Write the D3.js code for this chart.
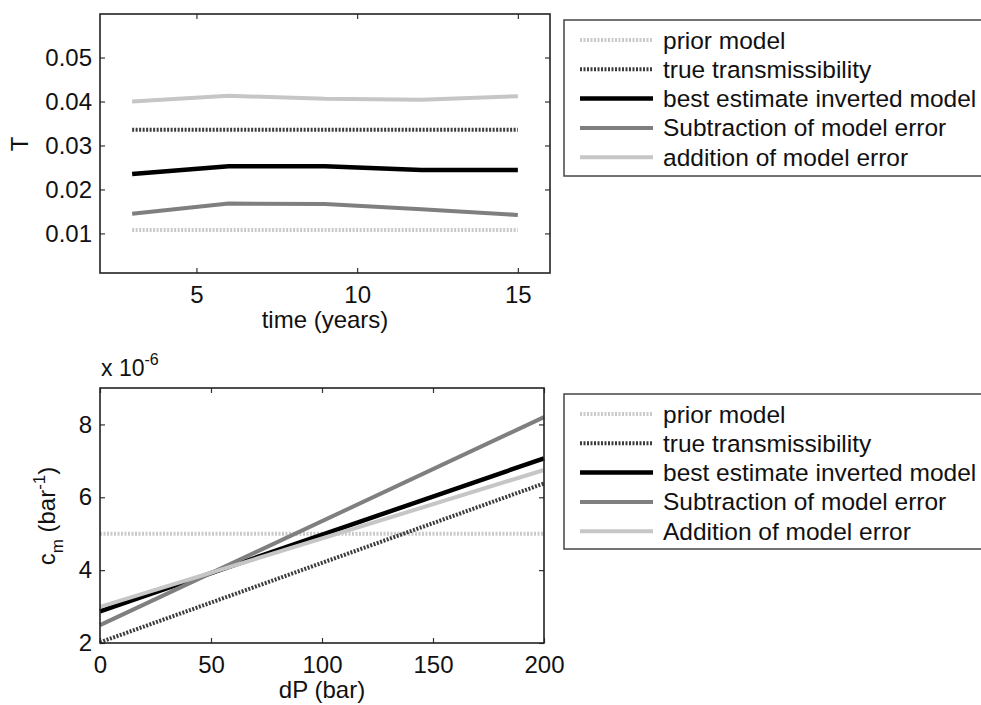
<!DOCTYPE html>
<html>
<head>
<meta charset="utf-8">
<script src="https://cdn.jsdelivr.net/npm/d3@7"></script>
<style>
  body { margin: 0; background: #fff; }
  svg { font-family: "Liberation Sans", Arial, Helvetica, sans-serif; }
</style>
</head>
<body>
<script>
// top panel: transmissibility vs time
const timeYears = [3, 6, 9, 12, 15];
const tPrior = [0.0108, 0.0108, 0.0108, 0.0108, 0.0108];
const tTrue = [0.0336, 0.0336, 0.0336, 0.0336, 0.0336];
const tBest = [0.0235, 0.0253, 0.0253, 0.0244, 0.0244];
const tSub = [0.0145, 0.0168, 0.0167, 0.0155, 0.0142];
const tAdd = [0.0400, 0.0413, 0.0406, 0.0404, 0.0412];
const topXTicks = [5, 10, 15];
const topYTicks = [0.01, 0.02, 0.03, 0.04, 0.05];

// bottom panel: compressibility vs pressure drop (x 1e-6)
const dP = [0, 200];
const cPrior = [5.0, 5.0];
const cTrue = [2.02, 6.38];
const cBest = [2.87, 7.07];
const cSub = [2.49, 8.2];
const cAdd = [2.99, 6.75];
const botXTicks = [0, 50, 100, 150, 200];
const botYTicks = [2, 4, 6, 8];

const topLabels = ["prior model", "true transmissibility", "best estimate inverted model",
                   "Subtraction of model error", "addition of model error"];
const botLabels = ["prior model", "true transmissibility", "best estimate inverted model",
                   "Subtraction of model error", "Addition of model error"];

// line styles, same order as labels
const styles = [
  { color: "#c9c9c9", width: 4, dash: "2,1.5" },
  { color: "#3c3c3c", width: 4, dash: "2,1.5" },
  { color: "#000000", width: 4.5, dash: null },
  { color: "#7f7f7f", width: 4, dash: null },
  { color: "#c6c6c6", width: 4, dash: null }
];

const width = 981, height = 705;
const svg = d3.select("body").append("svg")
  .attr("width", width)
  .attr("height", height);

function panel(opts) {
  const x = d3.scaleLinear().domain(opts.xDomain).range([opts.left, opts.right]);
  const y = d3.scaleLinear().domain(opts.yDomain).range([opts.bottom, opts.top]);
  const g = svg.append("g");

  // series
  opts.series.forEach((vals, i) => {
    const st = styles[i];
    const pts = opts.xs.map((xv, j) => [xv, vals[j]]);
    g.append("path")
      .datum(pts)
      .attr("fill", "none")
      .attr("stroke", st.color)
      .attr("stroke-width", st.width)
      .attr("stroke-dasharray", st.dash)
      .attr("d", d3.line().x(d => x(d[0])).y(d => y(d[1])));
  });

  // axes with inward ticks
  const fmt = opts.yFormat;
  const xb = g.append("g").attr("transform", `translate(0,${opts.bottom})`)
    .call(d3.axisBottom(x).tickValues(opts.xTicks).tickSize(-5).tickPadding(13));
  const xt = g.append("g").attr("transform", `translate(0,${opts.top})`)
    .call(d3.axisTop(x).tickValues(opts.xTicks).tickSize(-5).tickFormat(""));
  const yl = g.append("g").attr("transform", `translate(${opts.left},0)`)
    .call(d3.axisLeft(y).tickValues(opts.yTicks).tickSize(-5).tickPadding(8).tickFormat(fmt));
  const yr = g.append("g").attr("transform", `translate(${opts.right},0)`)
    .call(d3.axisRight(y).tickValues(opts.yTicks).tickSize(-5).tickFormat(""));
  [xb, xt, yl, yr].forEach(a => {
    a.select(".domain").remove();
    a.selectAll("line").attr("stroke", "#333").attr("stroke-width", 1.2);
    a.selectAll("text").attr("fill", "#111").style("font-size", "24px").attr("font-family", null);
  });

  g.append("rect")
    .attr("x", opts.left).attr("y", opts.top)
    .attr("width", opts.right - opts.left).attr("height", opts.bottom - opts.top)
    .attr("fill", "none").attr("stroke", "#222").attr("stroke-width", 1.6);

  // legend box
  const lg = svg.append("g");
  lg.append("rect")
    .attr("x", 564).attr("y", opts.legTop)
    .attr("width", 440).attr("height", opts.legH)
    .attr("fill", "#fff").attr("stroke", "#444").attr("stroke-width", 1.5);
  opts.labels.forEach((lab, i) => {
    const st = styles[i];
    const ly = opts.legTop + 20 + i * 29.3;
    lg.append("line")
      .attr("x1", 580).attr("x2", 653).attr("y1", ly).attr("y2", ly)
      .attr("stroke", st.color).attr("stroke-width", st.width)
      .attr("stroke-dasharray", st.dash);
    lg.append("text")
      .attr("x", 663).attr("y", ly + 8.5)
      .style("font-size", "24.5px").attr("fill", "#111")
      .text(lab);
  });
  return { x, y, g };
}

panel({
  left: 100, right: 550, top: 14, bottom: 273,
  xDomain: [2, 16], yDomain: [0.001, 0.0599],
  xs: timeYears, series: [tPrior, tTrue, tBest, tSub, tAdd],
  xTicks: topXTicks, yTicks: topYTicks, yFormat: d3.format(".2f"),
  labels: topLabels, legTop: 20, legH: 156
});

panel({
  left: 100, right: 544, top: 388, bottom: 643,
  xDomain: [0, 200], yDomain: [2, 9],
  xs: dP, series: [cPrior, cTrue, cBest, cSub, cAdd],
  xTicks: botXTicks, yTicks: botYTicks, yFormat: d3.format("d"),
  labels: botLabels, legTop: 394, legH: 155
});

// axis titles
svg.append("text").attr("x", 325).attr("y", 328).attr("text-anchor", "middle")
  .style("font-size", "24px").attr("fill", "#111").text("time (years)");
svg.append("text").attr("transform", "translate(28,144) rotate(-90)").attr("text-anchor", "middle")
  .style("font-size", "24px").attr("fill", "#111").text("T");

svg.append("text").attr("x", 322).attr("y", 698).attr("text-anchor", "middle")
  .style("font-size", "24px").attr("fill", "#111").text("dP (bar)");

const cl = svg.append("text").attr("transform", "translate(55,516) rotate(-90)")
  .attr("text-anchor", "middle").style("font-size", "24px").attr("fill", "#111");
cl.append("tspan").text("c");
cl.append("tspan").attr("dy", 8).style("font-size", "17px").text("m");
cl.append("tspan").attr("dy", -8).text(" (bar");
cl.append("tspan").attr("dy", -10).style("font-size", "17px").text("-1");
cl.append("tspan").attr("dy", 10).text(")");

const ex = svg.append("text").attr("x", 101).attr("y", 376)
  .style("font-size", "23px").attr("fill", "#111");
ex.append("tspan").text("x 10");
ex.append("tspan").attr("dy", -11).style("font-size", "16px").text("-6");
</script>
</body>
</html>
